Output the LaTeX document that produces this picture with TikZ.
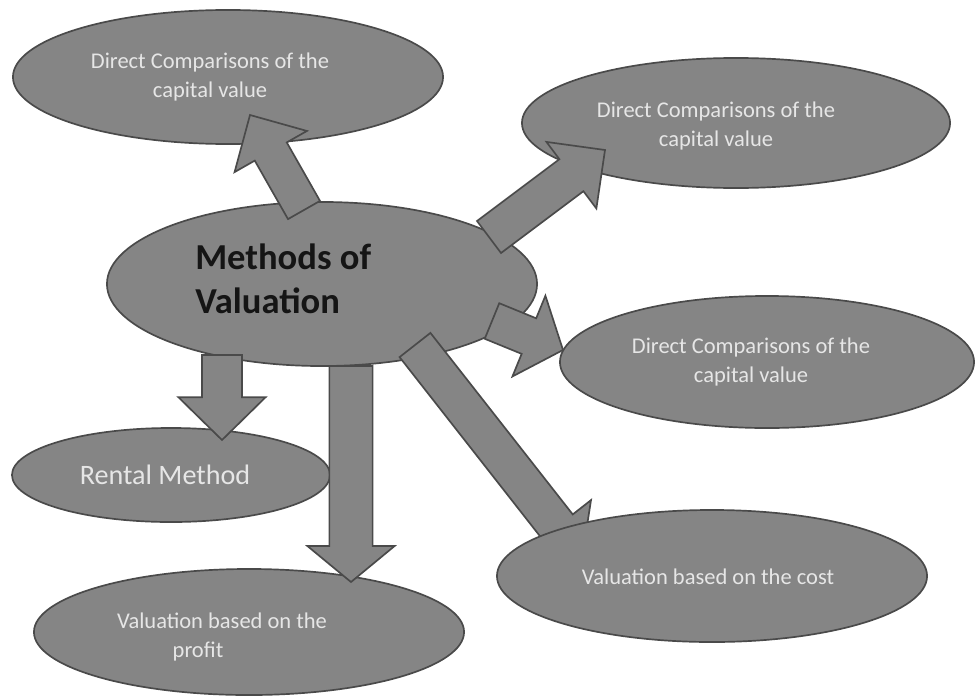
\documentclass[tikz,border=0pt]{standalone}
\usepackage{fontspec}
\setmainfont{Carlito}
\usetikzlibrary{shapes.geometric,calc}
\definecolor{ellfill}{HTML}{858585}
\definecolor{ellline}{HTML}{4A4A4A}
\definecolor{txtcol}{HTML}{E6E6E6}
\definecolor{ttlcol}{HTML}{151515}
\tikzset{
  oval/.style={ellipse, draw=ellline, line width=1.2pt, fill=ellfill, inner sep=0pt},
  smalltxt/.style={text=txtcol, font=\fontsize{16}{20}\selectfont, align=center, inner sep=0pt},
  bigtxt/.style={text=txtcol, font=\fontsize{20}{24}\selectfont, inner sep=0pt},
  ttltxt/.style={text=ttlcol, font=\bfseries\fontsize{26}{31}\selectfont, align=left, inner sep=0pt, anchor=west},
  blockarrow/.style={draw=ellline, line width=1.2pt, fill=ellfill, line join=miter},
}
% #1 base coordinate, #2 tip coordinate, #3 shaft half width, #4 head half width, #5 head length
\newcommand{\blkarrow}[5]{%
  \coordinate (#1h) at ($(#2)!#5!(#1)$);
  \filldraw[blockarrow] ($(#1)!#3!90:(#2)$) -- ($(#1h)!#3!-90:(#1)$) -- ($(#1h)!#4!-90:(#1)$)
    -- (#2) -- ($(#1h)!#4!90:(#1)$) -- ($(#1h)!#3!90:(#1)$) -- ($(#1)!#3!-90:(#2)$) -- cycle;}
\begin{document}
\begin{tikzpicture}[x=0.025cm,y=-0.025cm]
\useasboundingbox (0,0) rectangle (977,697);
% ellipses (under the arrows)
\node[oval, minimum width=10.75cm, minimum height=3.35cm] (dc1) at (228,77) {};
\node[oval, minimum width=10.7cm, minimum height=3.25cm] (dc2) at (736,123) {};
\node[oval, minimum width=10.35cm, minimum height=3.3cm] (dc3) at (767,362) {};
\node[oval, minimum width=10.75cm, minimum height=4.1cm] (mov) at (322,284) {};
\node[oval, minimum width=7.95cm, minimum height=2.35cm] (rent) at (171,475) {};
\node[oval, minimum width=10.75cm, minimum height=3.15cm] (prof) at (249,632) {};
% arrow end points
\coordinate (a1b) at (304,210); \coordinate (a1t) at (250,115);
\coordinate (a2b) at (489,237); \coordinate (a2t) at (605,150);
\coordinate (a3b) at (492,321); \coordinate (a3t) at (563,350);
\coordinate (a4b) at (415,345); \coordinate (a4t) at (582,558);
\coordinate (a5b) at (222,355); \coordinate (a5t) at (222,440);
\coordinate (a6b) at (351,366); \coordinate (a6t) at (351,582);
% arrows
\blkarrow{a1b}{a1t}{0.46cm}{1.04cm}{1.05cm}
\blkarrow{a2b}{a2t}{0.5cm}{1.04cm}{1.05cm}
\blkarrow{a3b}{a3t}{0.48cm}{1.09cm}{0.92cm}
\blkarrow{a4b}{a4t}{0.49cm}{1.07cm}{1.0cm}
\blkarrow{a5b}{a5t}{0.5cm}{1.09cm}{1.07cm}
\blkarrow{a6b}{a6t}{0.54cm}{1.09cm}{0.9cm}
% ellipse over the cost arrow
\node[oval, minimum width=10.75cm, minimum height=3.3cm] (cost) at (712,576) {};
% texts
\node[ttltxt] (movt) at (195,279) {Methods of\\Valuation};
\node[smalltxt] (dc1t) at (210,77) {Direct Comparisons of the\\capital value};
\node[smalltxt] (dc2t) at (716,126) {Direct Comparisons of the\\capital value};
\node[smalltxt] (dc3t) at (751,362) {Direct Comparisons of the\\capital value};
\node[bigtxt] (rentt) at (165,475) {Rental Method};
\node[smalltxt] (proft) at (222,637) {Valuation based on the\\profit\hspace*{1.2cm}};
\node[smalltxt] (costt) at (708,577) {Valuation based on the cost};
\end{tikzpicture}
\end{document}
